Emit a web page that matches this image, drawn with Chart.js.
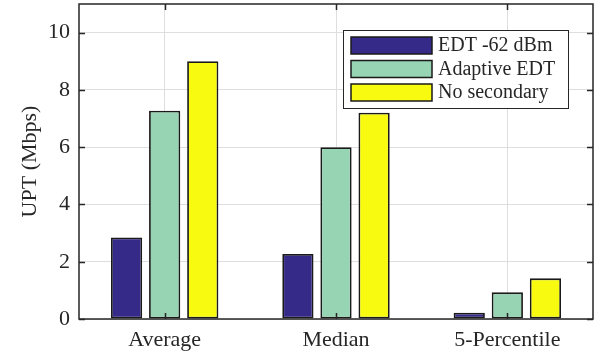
<!DOCTYPE html>
<html>
<head>
<meta charset="utf-8">
<script src="https://cdn.jsdelivr.net/npm/chart.js@4.4.1/dist/chart.umd.min.js"></script>
<style>
  html, body { margin: 0; padding: 0; background: #fff; }
  #wrap { width: 600px; height: 352px; }
</style>
</head>
<body>
<div id="wrap"><canvas id="uptChart" width="600" height="352"></canvas></div>
<script>
// Data
const categories = ['Average', 'Median', '5-Percentile'];
const seriesNames = ['EDT -62 dBm', 'Adaptive EDT', 'No secondary'];
const edtFixed = [2.85, 2.27, 0.22];
const edtAdaptive = [7.27, 6.0, 0.93];
const noSecondary = [9.0, 7.2, 1.42];
const yTicks = [0, 2, 4, 6, 8, 10];
const colors = ['#352a87', '#96d4b3', '#f8fa0f'];

const serif = "'Liberation Serif', serif";
const ink = '#262626';

// frame, inward ticks and legend box
const framePlugin = {
  id: 'frame',
  afterDraw(chart) {
    const { ctx, chartArea: a, scales } = chart;
    ctx.save();
    ctx.strokeStyle = ink;
    ctx.lineWidth = 1.5;
    // tick marks on all four sides
    ctx.beginPath();
    yTicks.forEach(v => {
      const y = Math.round(scales.y.getPixelForValue(v)) + 0.5;
      ctx.moveTo(a.left, y); ctx.lineTo(a.left + 6, y);
      ctx.moveTo(a.right, y); ctx.lineTo(a.right - 6, y);
    });
    categories.forEach((c, i) => {
      const x = Math.round(scales.x.getPixelForValue(i)) + 0.5;
      ctx.moveTo(x, a.bottom); ctx.lineTo(x, a.bottom - 6);
      ctx.moveTo(x, a.top); ctx.lineTo(x, a.top + 6);
    });
    ctx.stroke();
    ctx.strokeRect(a.left, a.top, a.right - a.left, a.bottom - a.top);

    // legend
    const lx = 343, ly = 30, lw = 225, lh = 78;
    ctx.fillStyle = '#fff';
    ctx.fillRect(lx, ly, lw, lh);
    ctx.lineWidth = 1;
    ctx.strokeStyle = ink;
    ctx.strokeRect(lx + 0.5, ly + 0.5, lw, lh);
    ctx.font = '20px ' + serif;
    ctx.textBaseline = 'middle';
    chart.data.datasets.forEach((ds, i) => {
      const sy = ly + 7 + i * 23.5;
      ctx.fillStyle = ds.backgroundColor;
      ctx.fillRect(351, sy, 81, 17);
      ctx.lineWidth = 1.5;
      ctx.strokeStyle = '#1a1a1a';
      ctx.strokeRect(351, sy, 81, 17);
      ctx.fillStyle = ink;
      ctx.fillText(ds.label, 438, sy + 9);
    });
    ctx.restore();
  }
};

const ctx = document.getElementById('uptChart').getContext('2d');
new Chart(ctx, {
  type: 'bar',
  data: {
    labels: categories,
    datasets: [edtFixed, edtAdaptive, noSecondary].map((vals, i) => ({
      label: seriesNames[i],
      data: vals,
      backgroundColor: colors[i],
      borderColor: '#1a1a1a',
      borderWidth: 1.8,
      borderSkipped: false,
      barPercentage: 0.82,
      categoryPercentage: 0.667
    }))
  },
  options: {
    responsive: false,
    animation: false,
    layout: { padding: { top: 4, right: 7, left: 0, bottom: 0 } },
    plugins: {
      legend: { display: false },
      tooltip: { enabled: false }
    },
    scales: {
      x: {
        grid: { offset: false, color: '#dedede', drawTicks: false },
        border: { display: false },
        ticks: { color: ink, font: { family: serif, size: 22 }, padding: 8 },
        afterFit(s) { s.height = 33; s.paddingLeft = 0; s.paddingRight = 0; }
      },
      y: {
        min: 0,
        max: 11,
        afterBuildTicks(s) { s.ticks = yTicks.map(v => ({ value: v })); },
        grid: { color: '#dedede', drawTicks: false },
        border: { display: false },
        ticks: { color: ink, font: { family: serif, size: 22 }, padding: 9 },
        title: {
          display: true,
          text: 'UPT (Mbps)',
          color: ink,
          font: { family: serif, size: 22 },
          padding: { top: 17, bottom: 0 }
        },
        afterFit(s) { s.width = 79; s.paddingTop = 0; s.paddingBottom = 0; }
      }
    }
  },
  plugins: [framePlugin]
});
</script>
</body>
</html>
